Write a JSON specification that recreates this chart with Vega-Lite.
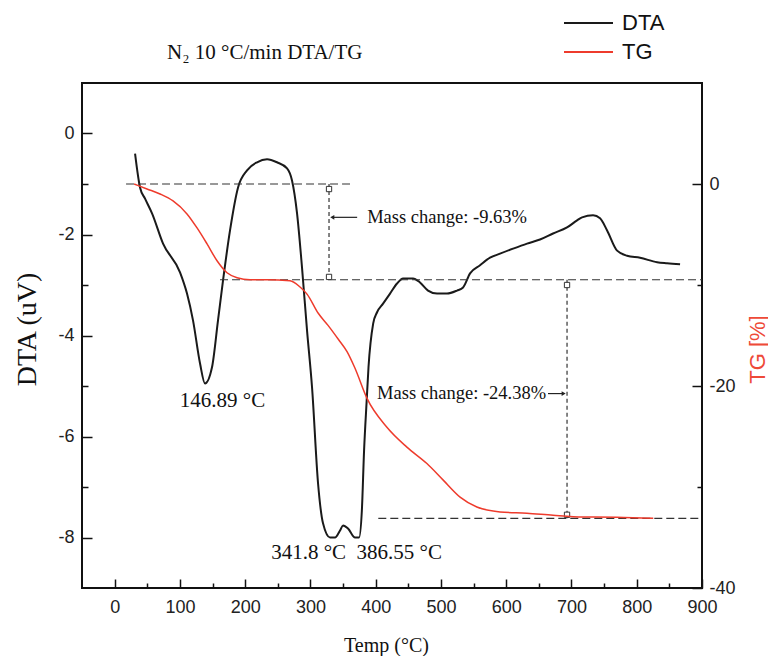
{
  "$schema": "https://vega.github.io/schema/vega-lite/v6.json",
  "width": 620,
  "height": 505,
  "autosize": {"type": "none"},
  "padding": {"left": 82, "top": 83, "right": 66, "bottom": 68},
  "background": "white",
  "config": {
    "view": {"stroke": "#111", "strokeWidth": 2},
    "axis": {"labelFont": "Liberation Sans", "labelFontSize": 18, "labelColor": "#222", "tickColor": "#111", "tickWidth": 1.5, "domain": false, "grid": false, "titleFontWeight": "normal", "labelFlush": false, "labelOverlap": false}
  },
  "title": {"text": "N₂ 10 °C/min DTA/TG", "anchor": "start", "frame": "group", "dx": 85, "offset": -51, "font": "Liberation Serif", "fontSize": 21, "fontWeight": "normal", "color": "#111"},
  "layer": [
    {
      "encoding": {
        "x": {"field": "t", "type": "quantitative", "scale": {"domain": [-50, 900], "nice": false, "zero": false},
          "axis": {"orient": "bottom", "values": [0, 100, 200, 300, 400, 500, 600, 700, 800, 900], "tickSize": -9, "labelPadding": 19, "title": "Temp (°C)", "titleFont": "Liberation Serif", "titleFontSize": 20, "titleColor": "#111", "titleX": 304, "titleY": 57, "titleAlign": "center", "titleBaseline": "middle"}}
      },
      "layer": [
        {
          "data": {"values": [
            {"t": 31.3, "dta": -0.40}, {"t": 38.9, "dta": -1.07}, {"t": 46.6, "dta": -1.29}, {"t": 57.3, "dta": -1.58},
            {"t": 74.2, "dta": -2.18}, {"t": 100.2, "dta": -2.75}, {"t": 110.9, "dta": -3.17}, {"t": 120.1, "dta": -3.70},
            {"t": 130.8, "dta": -4.55}, {"t": 138.5, "dta": -4.95}, {"t": 149.2, "dta": -4.63}, {"t": 158.4, "dta": -3.70},
            {"t": 166.1, "dta": -2.91}, {"t": 176.8, "dta": -1.92}, {"t": 189.1, "dta": -1.07}, {"t": 202.9, "dta": -0.73},
            {"t": 218.2, "dta": -0.57}, {"t": 233.5, "dta": -0.51}, {"t": 248.8, "dta": -0.57}, {"t": 264.2, "dta": -0.69},
            {"t": 271.8, "dta": -0.93}, {"t": 279.5, "dta": -1.58}, {"t": 287.1, "dta": -2.65}, {"t": 294.8, "dta": -3.90},
            {"t": 302.5, "dta": -5.03}, {"t": 311.7, "dta": -6.93}, {"t": 319.3, "dta": -7.72}, {"t": 330.0, "dta": -8.00},
            {"t": 337.7, "dta": -8.00}, {"t": 345.4, "dta": -7.86}, {"t": 350.0, "dta": -7.76}, {"t": 357.6, "dta": -7.82},
            {"t": 368.4, "dta": -8.00}, {"t": 374.5, "dta": -8.00}, {"t": 378.8, "dta": -7.47}, {"t": 382.2, "dta": -6.28},
            {"t": 386.2, "dta": -5.29}, {"t": 389.0, "dta": -4.63}, {"t": 396.2, "dta": -3.76}, {"t": 402.1, "dta": -3.54},
            {"t": 411.3, "dta": -3.37}, {"t": 422.0, "dta": -3.17}, {"t": 432.7, "dta": -2.97}, {"t": 441.9, "dta": -2.87},
            {"t": 457.2, "dta": -2.87}, {"t": 467.9, "dta": -2.95}, {"t": 480.2, "dta": -3.11}, {"t": 494.0, "dta": -3.17},
            {"t": 509.3, "dta": -3.17}, {"t": 524.6, "dta": -3.11}, {"t": 533.9, "dta": -3.05}, {"t": 544.6, "dta": -2.77},
            {"t": 559.9, "dta": -2.61}, {"t": 575.2, "dta": -2.46}, {"t": 590.5, "dta": -2.38}, {"t": 610.5, "dta": -2.28},
            {"t": 631.9, "dta": -2.18}, {"t": 651.8, "dta": -2.10}, {"t": 671.8, "dta": -1.98}, {"t": 693.2, "dta": -1.86},
            {"t": 708.6, "dta": -1.72}, {"t": 716.2, "dta": -1.66}, {"t": 733.1, "dta": -1.62}, {"t": 743.8, "dta": -1.68},
            {"t": 754.6, "dta": -1.92}, {"t": 769.9, "dta": -2.32}, {"t": 785.2, "dta": -2.42}, {"t": 805.1, "dta": -2.46},
            {"t": 831.2, "dta": -2.55}, {"t": 846.5, "dta": -2.57}, {"t": 866.4, "dta": -2.59}
          ]},
          "mark": {"type": "line", "strokeWidth": 2, "interpolate": "monotone"},
          "encoding": {
            "y": {"field": "dta", "type": "quantitative", "scale": {"domain": [-9, 1], "nice": false, "zero": false},
              "axis": {"orient": "left", "values": [0, -2, -4, -6, -8], "tickSize": -10, "labelPadding": 18, "labelExpr": "'' + datum.value", "title": "DTA (uV)", "titleFont": "Liberation Serif", "titleFontSize": 28, "titleColor": "#111", "titleX": -55, "titleY": 246, "titleAngle": 270, "titleAlign": "center", "titleBaseline": "middle"}},
            "color": {"datum": "DTA", "type": "nominal", "scale": {"domain": ["DTA", "TG"], "range": ["#1a1a1a", "#ee3b2c"]},
              "legend": {"orient": "none", "legendX": 481, "legendY": -71, "title": null, "symbolType": "stroke", "symbolSize": 2400, "symbolStrokeWidth": 2, "clipHeight": 22, "rowPadding": 7, "labelOffset": 8, "labelFont": "Liberation Sans", "labelFontSize": 22, "labelColor": "#111", "padding": 0}}
          }
        },
        {
          "data": {"values": [
            {"t": 165.3, "dta": -5.29, "label": "146.89 °C"},
            {"t": 370.7, "dta": -8.30, "label": "341.8 °C\u00a0\u00a0386.55 °C"}
          ]},
          "mark": {"type": "text", "font": "Liberation Serif", "fontSize": 21, "color": "#111", "align": "center", "baseline": "middle"},
          "encoding": {
            "y": {"field": "dta", "type": "quantitative", "scale": {"domain": [-9, 1], "nice": false, "zero": false},
              "axis": {"orient": "left", "values": [-1, -3, -5, -7], "tickSize": -6, "labels": false, "title": null}},
            "text": {"field": "label"}
          }
        }
      ],
      "resolve": {"axis": {"y": "independent"}}
    },
    {
      "encoding": {
        "x": {"field": "t", "type": "quantitative", "scale": {"domain": [-50, 900], "nice": false, "zero": false},
          "axis": {"orient": "bottom", "values": [50, 150, 250, 350, 450, 550, 650, 750, 850], "tickSize": -5, "labels": false, "title": null}}
      },
      "layer": [
        {
          "data": {"values": [
            {"t": 17.5, "t2": 365.7, "tg": 0},
            {"t": 161.5, "t2": 900, "tg": -9.48},
            {"t": 404, "t2": 900, "tg": -33.1}
          ]},
          "mark": {"type": "rule", "color": "#333", "strokeWidth": 1.2, "strokeDash": [8, 4]},
          "encoding": {
            "x2": {"field": "t2"},
            "y": {"field": "tg", "type": "quantitative", "scale": {"domain": [-40, 10], "nice": false, "zero": false},
              "axis": {"orient": "right", "values": [-10, -30], "tickSize": -5, "labels": false, "title": null}}
          }
        },
        {
          "data": {"values": [
            {"t": 328.5, "tg": 0, "tg2": -9.48},
            {"t": 693.2, "tg": -9.48, "tg2": -33.1}
          ]},
          "mark": {"type": "rule", "color": "#333", "strokeWidth": 1.2, "strokeDash": [4, 3]},
          "encoding": {
            "y": {"field": "tg", "type": "quantitative", "scale": {"domain": [-40, 10], "nice": false, "zero": false}, "axis": null},
            "y2": {"field": "tg2"}
          }
        },
        {
          "data": {"values": [
            {"t": 371.6, "t2": 335, "tg": -3.3},
            {"t": 664, "t2": 686, "tg": -20.75}
          ]},
          "mark": {"type": "rule", "color": "#222", "strokeWidth": 1.2},
          "encoding": {
            "x2": {"field": "t2"},
            "y": {"field": "tg", "type": "quantitative", "scale": {"domain": [-40, 10], "nice": false, "zero": false}, "axis": null}
          }
        },
        {
          "data": {"values": [
            {"t": 328.5, "tg": -0.5},
            {"t": 328.5, "tg": -9.2},
            {"t": 693.2, "tg": -10.0},
            {"t": 693.2, "tg": -32.75}
          ]},
          "mark": {"type": "point", "shape": "square", "size": 28, "fill": "white", "stroke": "#333", "strokeWidth": 1, "opacity": 1},
          "encoding": {
            "y": {"field": "tg", "type": "quantitative", "scale": {"domain": [-40, 10], "nice": false, "zero": false}, "axis": null}
          }
        },
        {
          "data": {"values": [{"t": 333.5, "tg": -3.3}]},
          "mark": {"type": "point", "shape": "triangle-left", "size": 22, "filled": true, "color": "#222", "opacity": 1},
          "encoding": {
            "y": {"field": "tg", "type": "quantitative", "scale": {"domain": [-40, 10], "nice": false, "zero": false}, "axis": null}
          }
        },
        {
          "data": {"values": [{"t": 688, "tg": -20.75}]},
          "mark": {"type": "point", "shape": "triangle-right", "size": 22, "filled": true, "color": "#222", "opacity": 1},
          "encoding": {
            "y": {"field": "tg", "type": "quantitative", "scale": {"domain": [-40, 10], "nice": false, "zero": false}, "axis": null}
          }
        },
        {
          "data": {"values": [
            {"t": 386.9, "tg": -3.25, "label": "Mass change: -9.63%"},
            {"t": 402.2, "tg": -20.65, "label": "Mass change: -24.38%"}
          ]},
          "mark": {"type": "text", "font": "Liberation Serif", "fontSize": 18.5, "color": "#111", "align": "left", "baseline": "middle"},
          "encoding": {
            "y": {"field": "tg", "type": "quantitative", "scale": {"domain": [-40, 10], "nice": false, "zero": false}, "axis": null},
            "text": {"field": "label"}
          }
        },
        {
          "data": {"values": [
            {"t": 29.9, "tg": 0.0}, {"t": 49.6, "tg": -0.49}, {"t": 69.6, "tg": -0.99}, {"t": 89.5, "tg": -1.68},
            {"t": 110.9, "tg": -2.96}, {"t": 126.3, "tg": -4.35}, {"t": 141.6, "tg": -5.93}, {"t": 156.9, "tg": -7.60},
            {"t": 172.2, "tg": -8.79}, {"t": 187.6, "tg": -9.28}, {"t": 207.5, "tg": -9.48}, {"t": 233.5, "tg": -9.48},
            {"t": 268.8, "tg": -9.58}, {"t": 284.1, "tg": -10.2}, {"t": 294.8, "tg": -10.9}, {"t": 312.0, "tg": -12.8},
            {"t": 327.0, "tg": -14.0}, {"t": 343.0, "tg": -15.4}, {"t": 356.1, "tg": -16.6}, {"t": 368.0, "tg": -18.2},
            {"t": 386.5, "tg": -21.2}, {"t": 417.2, "tg": -24.08}, {"t": 447.8, "tg": -26.05}, {"t": 478.5, "tg": -27.68},
            {"t": 503.5, "tg": -29.32}, {"t": 529.3, "tg": -31.0}, {"t": 555.0, "tg": -31.98}, {"t": 590.5, "tg": -32.47},
            {"t": 631.7, "tg": -32.6}, {"t": 671.9, "tg": -32.8}, {"t": 717.8, "tg": -32.97}, {"t": 769.6, "tg": -33.0},
            {"t": 825.3, "tg": -33.1}
          ]},
          "mark": {"type": "line", "strokeWidth": 1.5, "interpolate": "monotone"},
          "encoding": {
            "y": {"field": "tg", "type": "quantitative", "scale": {"domain": [-40, 10], "nice": false, "zero": false},
              "axis": {"orient": "right", "values": [0, -20, -40], "tickSize": -10, "labelPadding": 17, "labelExpr": "'' + datum.value", "title": "TG [%]", "titleColor": "#ee4a38", "titleFont": "Liberation Sans", "titleFontSize": 22, "titleAngle": 270, "titleX": 55, "titleY": 266, "titleAlign": "center", "titleBaseline": "middle"}},
            "color": {"datum": "TG", "type": "nominal"}
          }
        }
      ],
      "resolve": {"axis": {"y": "independent"}}
    }
  ],
  "resolve": {"scale": {"y": "independent"}, "axis": {"x": "independent"}}
}
